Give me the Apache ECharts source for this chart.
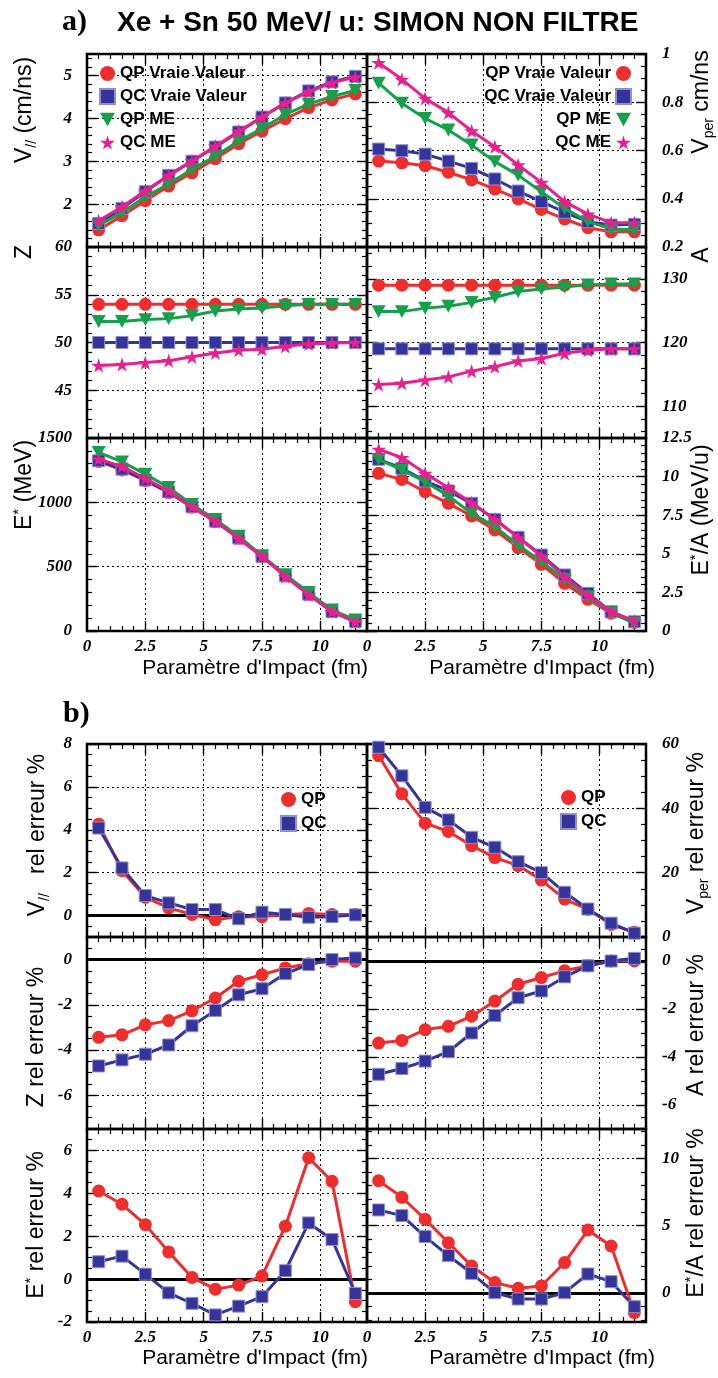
<!DOCTYPE html>
<html><head><meta charset="utf-8">
<script src="https://cdn.jsdelivr.net/npm/echarts@6/dist/echarts.min.js"></script>
<style>html,body{margin:0;padding:0;background:#fff}#c{width:718px;height:1378px}</style>
</head><body><div id="c"></div>
<script>
// ---------- DATA ----------
const impact = [0.5,1.5,2.5,3.5,4.5,5.5,6.5,7.5,8.5,9.5,10.5,11.5];
// part a
const vparQPtrue = [1.40,1.73,2.08,2.42,2.73,3.06,3.41,3.70,3.99,4.25,4.43,4.57];
const vparQCtrue = [1.55,1.90,2.29,2.67,3.00,3.33,3.68,4.03,4.36,4.64,4.85,4.98];
const vparQPme   = [1.51,1.80,2.17,2.47,2.81,3.12,3.47,3.76,4.09,4.33,4.51,4.65];
const vparQCme   = [1.61,1.94,2.31,2.67,3.01,3.35,3.70,4.03,4.36,4.62,4.83,4.96];
const vperQPtrue = [0.556,0.549,0.537,0.510,0.478,0.440,0.399,0.356,0.316,0.280,0.263,0.263];
const vperQCtrue = [0.606,0.599,0.585,0.556,0.526,0.482,0.432,0.388,0.344,0.305,0.291,0.294];
const vperQPme   = [0.879,0.796,0.733,0.685,0.623,0.554,0.498,0.429,0.360,0.305,0.275,0.271];
const vperQCme   = [0.964,0.895,0.816,0.757,0.681,0.616,0.540,0.468,0.388,0.336,0.301,0.301];
const zQPtrue = [54,54,54,54,54,54,54,54,54,54,54,54];
const zQCtrue = [50,50,50,50,50,50,50,50,50,50,50,50];
const zQPme   = [52.2,52.2,52.4,52.5,52.8,53.3,53.5,53.6,53.85,54.0,54.0,54.0];
const zQCme   = [47.6,47.7,47.9,48.1,48.5,48.9,49.2,49.3,49.6,49.85,49.95,50.0];
const aQPtrue = [129,129,129,129,129,129,129,129,129,129,129,129];
const aQCtrue = [119,119,119,119,119,119,119,119,119,119,119,119];
const aQPme   = [124.85,124.85,125.4,125.7,126.3,127.1,128.0,128.4,128.7,129.05,129.2,129.2];
const aQCme   = [113.4,113.6,114.1,114.6,115.5,116.2,117.1,117.5,118.3,118.8,119.0,119.0];
const eQPtrue = [1318,1252,1168,1076,962,850,720,578,428,285,150,72];
const eQCtrue = [1323,1258,1174,1081,966,854,724,581,430,287,151,73];
const eQPme   = [1388,1315,1219,1115,984,867,737,586,437,299,164,86];
const eQCme   = [1336,1279,1185,1088,966,854,719,581,423,281,151,73];
const eaQPtrue = [10.21,9.82,9.02,8.27,7.45,6.54,5.40,4.32,3.09,2.05,1.15,0.56];
const eaQCtrue = [11.12,10.54,9.72,9.07,8.27,7.23,6.07,4.92,3.63,2.44,1.25,0.60];
const eaQPme   = [11.12,10.43,9.67,8.74,7.62,6.76,5.57,4.49,3.35,2.22,1.19,0.50];
const eaQCme   = [11.77,11.23,10.21,9.28,8.31,7.23,6.07,4.86,3.52,2.33,1.25,0.65];
// part b (relative errors %)
const vparErrQP = [4.26,2.09,0.85,0.36,0.05,-0.20,-0.05,-0.05,0.05,0.10,0.05,0.05];
const vparErrQC = [4.08,2.22,0.93,0.59,0.28,0.28,-0.15,0.16,0.05,-0.08,-0.05,0.03];
const vperErrQP = [56.4,44.5,35.4,32.8,28.4,24.7,22.2,17.7,11.8,8.6,3.9,1.5];
const vperErrQC = [59.0,50.1,40.3,36.4,31.0,27.9,23.4,20.0,13.9,8.7,4.3,1.2];
const zErrQP = [-3.44,-3.33,-2.89,-2.70,-2.27,-1.70,-0.96,-0.67,-0.37,-0.18,-0.07,-0.07];
const zErrQC = [-4.71,-4.44,-4.19,-3.78,-2.93,-2.25,-1.56,-1.29,-0.62,-0.22,0.0,0.07];
const aErrQP = [-3.42,-3.31,-2.86,-2.72,-2.30,-1.67,-0.97,-0.69,-0.41,-0.20,0.0,0.0];
const aErrQC = [-4.72,-4.48,-4.17,-3.78,-3.00,-2.27,-1.53,-1.25,-0.66,-0.20,0.0,0.11];
const eErrQP = [4.11,3.49,2.54,1.27,0.08,-0.47,-0.28,0.14,2.47,5.66,4.56,-1.05];
const eErrQC = [0.81,1.07,0.23,-0.64,-1.13,-1.67,-1.26,-0.82,0.39,2.62,1.85,-0.67];
const eaErrQP = [8.35,7.11,5.48,3.74,2.00,0.77,0.35,0.52,2.26,4.68,3.49,-1.46];
const eaErrQC = [6.17,5.75,4.19,2.78,1.46,0.02,-0.45,-0.45,0.02,1.41,0.84,-1.02];
// tick labels
const xTickLabels = [0,2.5,5,7.5,10];
const vparTicks = [2,3,4,5];
const vperTicks = [0.2,0.4,0.6,0.8,1];
const zTicks = [45,50,55,60];
const aTicks = [110,120,130];
const eTicks = [0,500,1000,1500];
const eaTicks = [0,2.5,5,7.5,10,12.5];
const vparErrTicks = [0,2,4,6,8];
const vperErrTicks = [0,20,40,60];
const zErrTicks = [-6,-4,-2,0];
const aErrTicks = [-6,-4,-2,0];
const eErrTicks = [-2,0,2,4,6];
const eaErrTicks = [0,5,10];

// ---------- STYLE ----------
const COL = {red:'#ee2d2d', blue:'#34349a', green:'#16a04b', mag:'#e8208f'};
const SYM = {
  circle:{symbol:'circle', size:13},
  rect:{symbol:'rect', size:12},
  tri:{symbol:'path://M0,0L12,0L6,11Z', size:14},
  star:{symbol:'path://M50,0L61,35L98,35L68,57L79,91L50,70L21,91L32,57L2,35L39,35Z', size:15}
};
const tickFont = {fontFamily:'Liberation Serif', fontStyle:'italic', fontWeight:'bold', fontSize:17, color:'#000', formatter: v => String(v)};
const L = {left:87, width:280}, R = {left:367, width:279};
const rowsA = [{top:54,height:193},{top:247,height:191},{top:438,height:193}];
const rowsB = [{top:744,height:193},{top:937,height:192},{top:1129,height:193}];

function minorVals(min, max, step, majors) {
  const out = [];
  for (let k = Math.ceil(min/step - 1e-9); k*step <= max + 1e-9; k++) {
    const v = +(k*step).toFixed(6);
    if (v <= min + 1e-9 || v >= max - 1e-9) continue;
    if (majors.some(m => Math.abs(m - v) < 1e-6)) continue;
    out.push(v);
  }
  return out;
}
const xMajor = [2.5,5,7.5,10];
const xMinor = minorVals(0, 12, 0.5, [0,2.5,5,7.5,10]);

const aSer = (qpT, qcT, qpM, qcM) => [
  ['QP Vraie Valeur', qpT, 'red', 'circle'],
  ['QC Vraie Valeur', qcT, 'blue', 'rect'],
  ['QP ME', qpM, 'green', 'tri'],
  ['QC ME', qcM, 'mag', 'star']];
const bSer = (qp, qc) => [['QP', qp, 'red', 'circle'], ['QC', qc, 'blue', 'rect']];

const panels = [
  {g:{...L,...rowsA[0]}, y:[1,5.5], major:[2,3,4,5], minor:0.2, labels:vparTicks, side:'left', xl:false, ser:aSer(vparQPtrue,vparQCtrue,vparQPme,vparQCme)},
  {g:{...R,...rowsA[0]}, y:[0.2,1], major:[0.4,0.6,0.8], minor:0.05, labels:vperTicks, side:'right', xl:false, ser:aSer(vperQPtrue,vperQCtrue,vperQPme,vperQCme)},
  {g:{...L,...rowsA[1]}, y:[40,60], major:[45,50,55], minor:1, labels:zTicks, side:'left', xl:false, ser:aSer(zQPtrue,zQCtrue,zQPme,zQCme)},
  {g:{...R,...rowsA[1]}, y:[105,135], major:[110,120,130], minor:2, labels:aTicks, side:'right', xl:false, ser:aSer(aQPtrue,aQCtrue,aQPme,aQCme)},
  {g:{...L,...rowsA[2]}, y:[0,1500], major:[500,1000], minor:100, labels:eTicks, side:'left', xl:true, ser:aSer(eQPtrue,eQCtrue,eQPme,eQCme)},
  {g:{...R,...rowsA[2]}, y:[0,12.5], major:[2.5,5,7.5,10], minor:0.5, labels:eaTicks, side:'right', xl:true, ser:aSer(eaQPtrue,eaQCtrue,eaQPme,eaQCme)},
  {g:{...L,...rowsB[0]}, y:[-1,8], major:[0,2,4,6], minor:0.5, labels:vparErrTicks, side:'left', xl:false, zero:true, ser:bSer(vparErrQP,vparErrQC)},
  {g:{...R,...rowsB[0]}, y:[0,60], major:[20,40], minor:5, labels:vperErrTicks, side:'right', xl:false, ser:bSer(vperErrQP,vperErrQC)},
  {g:{...L,...rowsB[1]}, y:[-7.5,1], major:[-6,-4,-2,0], minor:0.5, labels:zErrTicks, side:'left', xl:false, zero:true, ser:bSer(zErrQP,zErrQC)},
  {g:{...R,...rowsB[1]}, y:[-7,1], major:[-6,-4,-2,0], minor:0.5, labels:aErrTicks, side:'right', xl:false, zero:true, ser:bSer(aErrQP,aErrQC)},
  {g:{...L,...rowsB[2]}, y:[-2,7], major:[0,2,4,6], minor:0.5, labels:eErrTicks, side:'left', xl:true, zero:true, ser:bSer(eErrQP,eErrQC)},
  {g:{...R,...rowsB[2]}, y:[-2.16,12.19], major:[0,5,10], minor:1, labels:eaErrTicks, side:'right', xl:true, zero:true, ser:bSer(eaErrQP,eaErrQC)}
];

const grid = [], xAxis = [], yAxis = [], series = [];
const dotted = {show:true, lineStyle:{color:'#000', width:1, type:[2,3]}};
const majTick = vals => ({show:true, inside:true, length:10, customValues:vals, lineStyle:{color:'#000', width:1.4}});
const minTick = vals => ({show:true, inside:true, length:5, customValues:vals, lineStyle:{color:'#000', width:1.2}});

panels.forEach((p, gi) => {
  grid.push({left:p.g.left, top:p.g.top, width:p.g.width, height:p.g.height, show:true, borderColor:'#000', borderWidth:2.5, backgroundColor:'rgba(0,0,0,0)'});
  const xb = xAxis.length, yb = yAxis.length;
  const bx = {gridIndex:gi, type:'value', min:0, max:12, axisLine:{show:false, onZero:false}, splitLine:{show:false}, axisLabel:{show:false}, minorTick:{show:false}, minorSplitLine:{show:false}};
  xAxis.push({...bx, position:'bottom', axisTick:majTick(xMajor), splitLine:dotted,
    axisLabel:{show:p.xl, customValues:xTickLabels, margin:7, showMinLabel:true, showMaxLabel:true, ...tickFont}});
  xAxis.push({...bx, position:'bottom', axisTick:minTick(xMinor)});
  xAxis.push({...bx, position:'top', axisTick:majTick(xMajor)});
  xAxis.push({...bx, position:'top', axisTick:minTick(xMinor)});
  const allMaj = p.labels;
  const yMinor = minorVals(p.y[0], p.y[1], p.minor, allMaj.concat(p.major));
  const by = {gridIndex:gi, type:'value', min:p.y[0], max:p.y[1], axisLine:{show:false, onZero:false}, splitLine:{show:false}, axisLabel:{show:false}, minorTick:{show:false}, minorSplitLine:{show:false}};
  const lab = {show:true, customValues:p.labels, margin:p.side==='left'?15:16, showMinLabel:true, showMaxLabel:true, ...tickFont};
  yAxis.push({...by, position:'left', axisTick:majTick(allMaj), splitLine:{...dotted}, axisLabel: p.side==='left'?lab:{show:false}});
  yAxis.push({...by, position:'left', axisTick:minTick(yMinor)});
  yAxis.push({...by, position:'right', axisTick:majTick(allMaj), axisLabel: p.side==='right'?lab:{show:false}});
  yAxis.push({...by, position:'right', axisTick:minTick(yMinor)});
  p.ser.forEach((s, si) => {
    const [name, vals, col, sym] = s;
    const ser = {
      type:'line', name, xAxisIndex:xb, yAxisIndex:yb,
      data: impact.map((x, i) => [x, vals[i]]),
      symbol:SYM[sym].symbol, symbolSize:SYM[sym].size, symbolKeepAspect:true,
      itemStyle:{color:COL[col], borderColor: col==='blue' ? '#8f8fd0' : COL[col], borderWidth: col==='blue'?1:0},
      lineStyle:{color:COL[col], width:3},
      emphasis:{disabled:true}, z:2+si
    };
    if (si === 0 && p.zero) {
      ser.markLine = {silent:true, symbol:['none','none'], z:1, label:{show:false}, animation:false,
        lineStyle:{color:'#000', width:3, type:'solid'}, emphasis:{disabled:true}, data:[{yAxis:0}]};
    }
    series.push(ser);
  });
});

const legText = {fontSize:17, fontWeight:'bold', fontFamily:'Liberation Sans', color:'#000', lineHeight:17};
const aLeg = [{name:'QP Vraie Valeur', icon:'circle'}, {name:'QC Vraie Valeur', icon:'rect'},
  {name:'QP ME', icon:SYM.tri.symbol}, {name:'QC ME', icon:SYM.star.symbol}];
const bLeg = [{name:'QP', icon:'circle'}, {name:'QC', icon:'rect'}];
const legBase = {orient:'vertical', itemWidth:15, itemHeight:15, selectedMode:false, textStyle:legText, padding:0};
const legend = [
  {...legBase, data:aLeg, left:99, top:65, itemGap:6, align:'left'},
  {...legBase, data:aLeg, right:86, top:65, itemGap:6, align:'right'},
  {...legBase, data:bLeg, left:280, top:791, itemGap:7, align:'left'},
  {...legBase, data:bLeg, left:560, top:789, itemGap:7, align:'left'}
];

const rich = {
  m:{fontSize:23, fontFamily:'Liberation Sans', color:'#000', lineHeight:28},
  s:{fontSize:14, fontFamily:'Liberation Sans', color:'#000', verticalAlign:'bottom', lineHeight:14},
  p:{fontSize:15, fontFamily:'Liberation Sans', color:'#000', verticalAlign:'top', lineHeight:15}
};
function yTitle(x, y, text) {
  return {type:'text', x, y, rotation:Math.PI/2, silent:true,
    style:{text, rich, align:'center', verticalAlign:'middle', fill:'#000', font:'23px "Liberation Sans"'}};
}
function plain(x, y, text, font, align) {
  return {type:'text', x, y, silent:true, style:{text, font, fill:'#000', align:align||'left', verticalAlign:'middle'}};
}
const xt = 'Paramètre d\'Impact (fm)';
const graphic = [
  plain(62, 22, 'a)', 'bold 30px "Liberation Serif"'),
  plain(117, 23, 'Xe + Sn 50 MeV/ u: SIMON NON FILTRE', 'bold 28px "Liberation Sans"'),
  plain(63, 714, 'b)', 'bold 30px "Liberation Serif"'),
  plain(368, 668, xt, '21px "Liberation Sans"', 'right'),
  plain(655, 668, xt, '21px "Liberation Sans"', 'right'),
  plain(368, 1358, xt, '21px "Liberation Sans"', 'right'),
  plain(655, 1358, xt, '21px "Liberation Sans"', 'right'),
  yTitle(25, 110, '{m|V}{s|//}{m| (cm/ns)}'),
  yTitle(702, 102, '{m|V}{s|per}{m| cm/ns}'),
  yTitle(25, 252, '{m|Z}'),
  yTitle(702, 255, '{m|A}'),
  yTitle(25, 485, '{m|E}{p|*}{m| (MeV)}'),
  yTitle(702, 510, '{m|E}{p|*}{m|/A (MeV/u)}'),
  yTitle(38, 835, '{m|V}{s|//}{m|   rel erreur %}'),
  yTitle(697, 833, '{m|V}{s|per}{m| rel erreur %}'),
  yTitle(37, 1037, '{m|Z rel erreur %}'),
  yTitle(697, 1025, '{m|A rel erreur %}'),
  yTitle(37, 1225, '{m|E}{p|*}{m| rel erreur %}'),
  yTitle(697, 1213, '{m|E}{p|*}{m|/A rel erreur %}')
];

const chart = echarts.init(document.getElementById('c'), null, {renderer:'canvas', width:718, height:1378});
chart.setOption({animation:false, backgroundColor:'#fff', grid, xAxis, yAxis, series, legend, graphic});
</script>
</body></html>
